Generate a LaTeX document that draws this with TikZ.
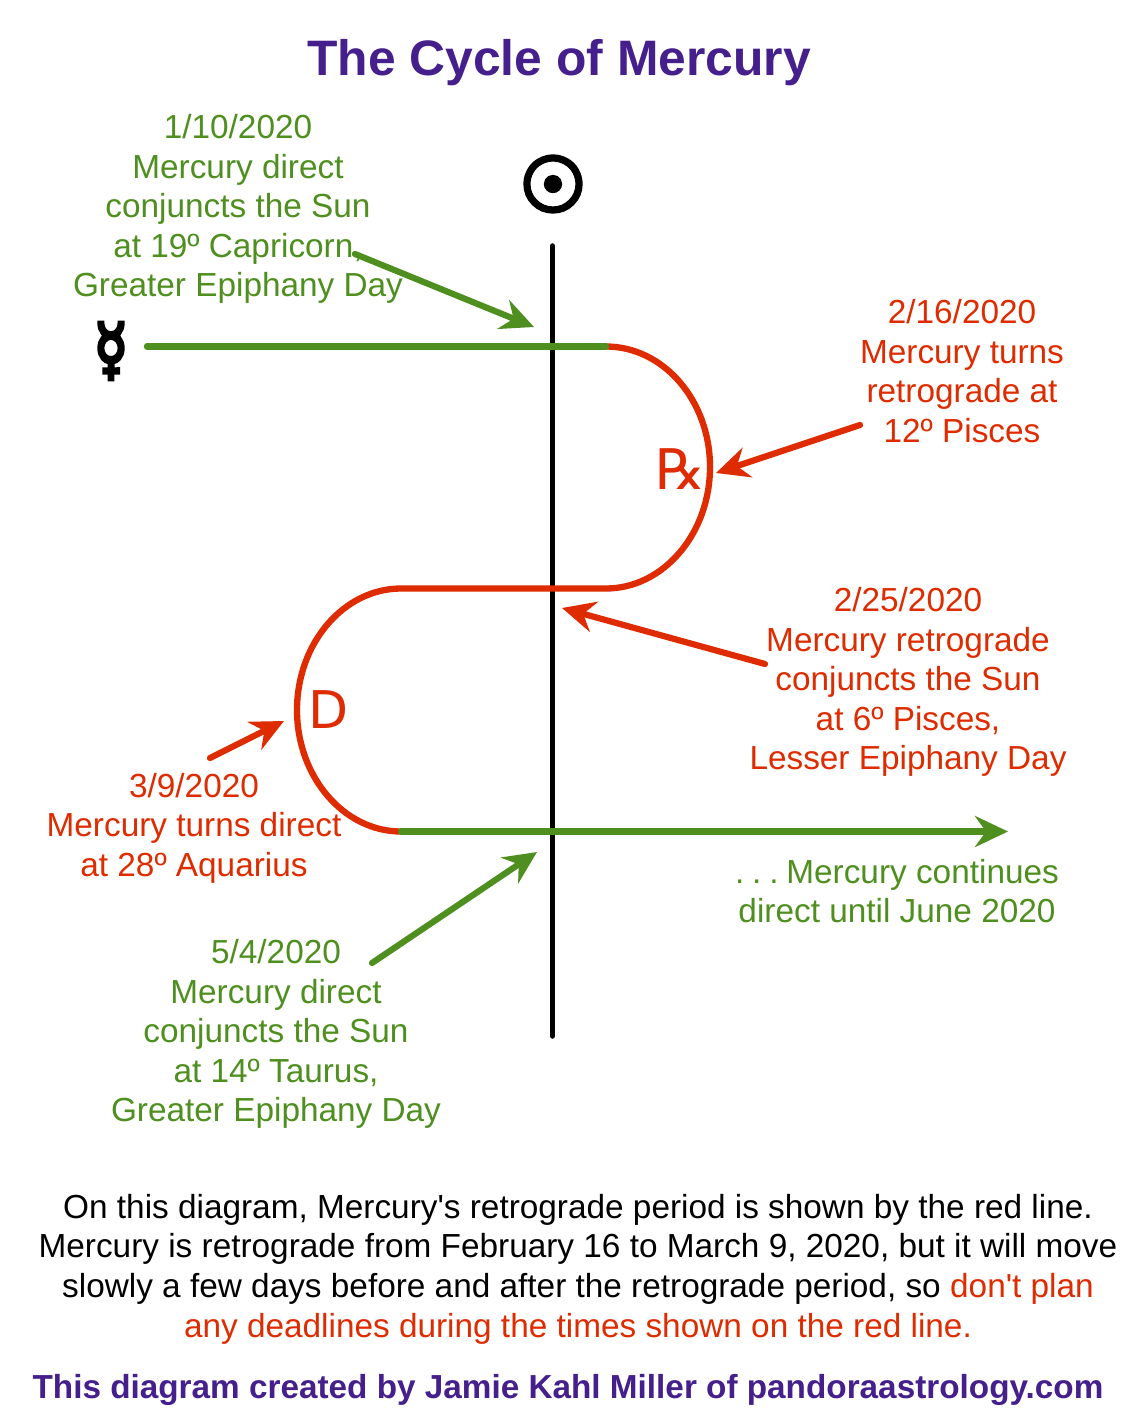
\documentclass[tikz,border=0pt]{standalone}
\usepackage{fontspec}
\usetikzlibrary{arrows.meta}
\newfontfamily\hv{Liberation Sans}
\newfontfamily\dv{DejaVu Sans}
\newfontfamily\dvb[FakeBold=3]{DejaVu Sans}
\newfontfamily\dvbb[FakeBold=6]{DejaVu Sans}
\definecolor{mgreen}{HTML}{4F8F1F}
\definecolor{mred}{HTML}{DE2C00}
\definecolor{mpurple}{HTML}{451F8B}
\tikzset{
  lbl/.style={font=\hv\fontsize{33.35}{39.6}\selectfont,align=center,inner sep=0pt},
  grn/.style={lbl,text=mgreen},
  rd/.style={lbl,text=mred},
  arr/.style={line width=6.2pt,line cap=round,-{Stealth[length=33pt,width=31pt,inset=11pt]}},
  curve/.style={line width=6.3pt,line cap=round}
}
\begin{document}
\begin{tikzpicture}[x=1pt,y=-1pt]
\useasboundingbox[fill=white] (0,0) rectangle (1135,1420);
\node[font=\hv\bfseries\fontsize{49.8}{56}\selectfont,text=mpurple,inner sep=0pt] (title) at (559,63) {The Cycle of Mercury};
\node[grn] (t1) at (238,209) {1/10/2020\\Mercury direct\\conjuncts the Sun\\at 19º Capricorn,\\Greater Epiphany Day};
\node[rd] (t2) at (962,371) {2/16/2020\\Mercury turns\\retrograde at\\12º Pisces};
\node[rd] (t3) at (908,682) {2/25/2020\\Mercury retrograde\\conjuncts the Sun\\at 6º Pisces,\\Lesser Epiphany Day};
\node[rd] (t4) at (194,828) {3/9/2020\\Mercury turns direct\\at 28º Aquarius};
\node[grn] (t5) at (276,1034) {5/4/2020\\Mercury direct\\conjuncts the Sun\\at 14º Taurus,\\Greater Epiphany Day};
\node[grn] (t6) at (897,891) {.\hspace{7.8pt}.\hspace{7.8pt}.\hspace{7.8pt}Mercury continues\\direct until June 2020};
\node[lbl,text=black] (body) at (578,1269) {On this diagram, Mercury's retrograde period is shown by the red line.\\Mercury is retrograde from February 16 to March 9, 2020, but it will move\\slowly a few days before and after the retrograde period, so \textcolor{mred}{don't plan}\\\textcolor{mred}{any deadlines during the times shown on the red line.}};
\node[font=\hv\bfseries\fontsize{33.3}{40}\selectfont,text=mpurple,inner sep=0pt] (credit) at (568,1390) {This diagram created by Jamie Kahl Miller of pandoraastrology.com};
\node[font=\dvbb\fontsize{75}{80}\selectfont,inner sep=0pt] (sun) at (553,184) {☉};
\node[font=\dvbb\fontsize{68}{80}\selectfont,inner sep=0pt,xscale=0.8,transform shape] (merc) at (111,351) {☿};
\node[font=\dv\fontsize{56}{60}\selectfont,text=mred,inner sep=0pt] (rx) at (681,469) {℞};
\node[font=\dv\fontsize{52}{60}\selectfont,text=mred,inner sep=0pt] (d) at (329,710) {D};

\coordinate (axt) at (552.5,246); \coordinate (axb) at (552.5,1036);
\draw[line width=5.5pt,line cap=round] (axt) -- (axb);
\coordinate (g1a) at (147,346.5); \coordinate (g1b) at (606,346.5);
\coordinate (r1) at (710,467); \coordinate (r2) at (606,588.5);
\coordinate (r3) at (401,588.5); \coordinate (r4) at (297,710); \coordinate (r5) at (401,831.5);
\coordinate (g2) at (1008,831.5);
\draw[curve,mred] (g1b) .. controls (663,346.5) and (710,400) .. (r1) .. controls (710,534) and (663,588.5) .. (r2) -- (r3)
  .. controls (344,588.5) and (297,643) .. (r4) .. controls (297,777) and (344,831.5) .. (r5);
\draw[curve,mgreen] (g1a) -- (g1b);
\draw[arr,mgreen] (r5) -- (g2);
\coordinate (a1s) at (355,254); \coordinate (a1e) at (534,327);
\coordinate (a2s) at (860,425); \coordinate (a2e) at (716,473);
\coordinate (a3s) at (765,664); \coordinate (a3e) at (562,608);
\coordinate (a4s) at (210,758); \coordinate (a4e) at (284,721);
\coordinate (a5s) at (372,963); \coordinate (a5e) at (537,852);
\draw[arr,mgreen] (a1s) -- (a1e);
\draw[arr,mred] (a2s) -- (a2e);
\draw[arr,mred] (a3s) -- (a3e);
\draw[arr,mred] (a4s) -- (a4e);
\draw[arr,mgreen] (a5s) -- (a5e);
\end{tikzpicture}
\end{document}
